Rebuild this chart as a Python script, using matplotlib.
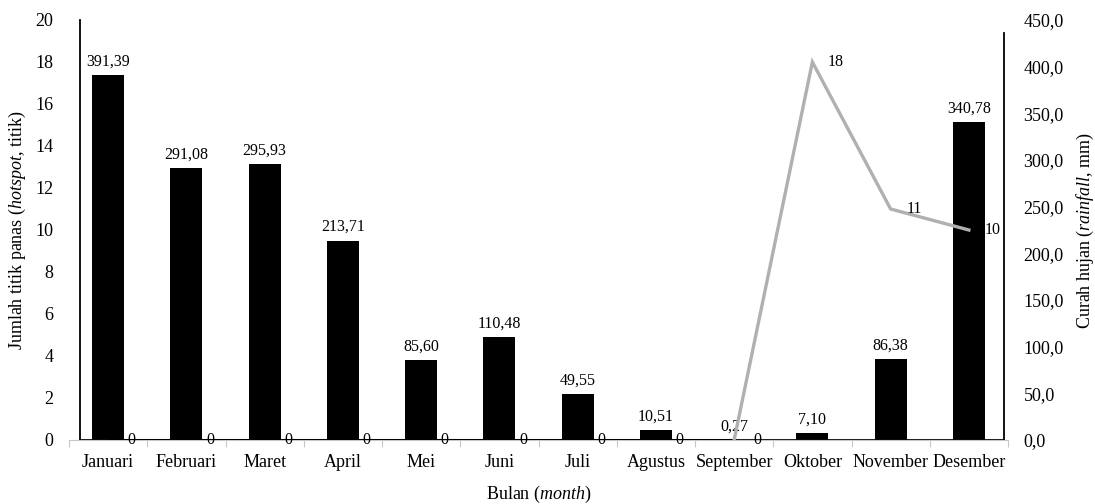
import matplotlib
matplotlib.use("Agg")
import matplotlib.pyplot as plt
import numpy as np

# data
months = ["Januari", "Februari", "Maret", "April", "Mei", "Juni", "Juli",
          "Agustus", "September", "Oktober", "November", "Desember"]
rainfall = [391.39, 291.08, 295.93, 213.71, 85.60, 110.48, 49.55,
            10.51, 0.27, 7.10, 86.38, 340.78]
hotspot = [0, 0, 0, 0, 0, 0, 0, 0, 0, 18, 11, 10]

plt.rcParams["font.family"] = ["Liberation Serif", "DejaVu Serif"]
plt.rcParams["mathtext.fontset"] = "custom"
plt.rcParams["mathtext.rm"] = "Liberation Serif"
plt.rcParams["mathtext.it"] = "Liberation Serif:italic"
FS_TICK = 13
FS_DATA = 11.5
FS_LAB = 13

fig = plt.figure(figsize=(10.95, 5.04), dpi=100)
W, H = 1095, 504
x0, x1, y0, y1 = 69, 1008, 440, 20
ax = fig.add_axes([x0 / W, (H - y0) / H, (x1 - x0) / W, (y0 - y1) / H])
ax2 = ax.twinx()

x = np.arange(len(months))
cat_px = (x1 - x0) / len(months)

# bars on the rainfall axis
bars = ax2.bar(x, rainfall, width=0.41, color="black", zorder=2)
for b, v in zip(bars, rainfall):
    ax2.annotate(f"{v:.2f}".replace(".", ","), (b.get_x() + b.get_width() / 2, v),
                 xytext=(0, 4), textcoords="offset points",
                 ha="center", va="bottom", fontsize=FS_DATA)

# hotspot line: zero stretch is dark, rest grey
n0 = max(i for i, v in enumerate(hotspot) if v == 0)
ax.plot(x[:n0 + 1], hotspot[:n0 + 1], color="black", lw=2.2, zorder=3)
ax.plot(x[n0:], hotspot[n0:], color="#b0b0b0", lw=2.4, zorder=3,
        solid_joinstyle="miter")
for xi, v in zip(x, hotspot):
    ax.annotate(f"{v}", (xi, v), xytext=(17, 0), textcoords="offset points",
                ha="center", va="center", fontsize=FS_DATA)

ax.set_zorder(ax2.get_zorder() + 1)
ax.patch.set_visible(False)

ax.set_xlim(-0.5, len(months) - 0.5)
ax.set_ylim(0, 20)
ax2.set_ylim(0, 450)
ax.set_yticks(np.arange(0, 21, 2))
ax2.set_yticks(np.arange(0, 451, 50))
ax2.set_yticklabels([f"{t:.1f}".replace(".", ",") for t in np.arange(0, 451, 50)])

ax.set_xticks(x)
ax.set_xticklabels(months)
ax.set_xticks(np.arange(-0.5, len(months)), minor=True)
ax.tick_params(axis="x", which="major", length=0, pad=10, labelsize=FS_TICK)
ax.tick_params(axis="x", which="minor", length=5, color="#c8c8c8", width=0.8)
ax.tick_params(axis="y", length=0, pad=19, labelsize=FS_TICK)
ax2.tick_params(axis="y", length=0, pad=14, labelsize=FS_TICK)
ax2.tick_params(axis="x", length=0)

# spines
left_x = -0.5 + (80 - x0) / cat_px
right_x = len(months) - 0.5 - (x1 - 1004) / cat_px
for a in (ax, ax2):
    a.spines["top"].set_visible(False)
ax.spines["right"].set_visible(False)
ax2.spines["left"].set_visible(False)
ax2.spines["bottom"].set_visible(False)
ax.spines["left"].set_position(("data", left_x))
ax.spines["left"].set_linewidth(1.3)
ax2.spines["right"].set_position(("data", right_x))
ax2.spines["right"].set_linewidth(1.3)
ax2.spines["right"].set_bounds(0, 436)
ax.spines["bottom"].set_color("#c8c8c8")
ax.spines["bottom"].set_linewidth(0.8)
ax.axhline(0, xmin=(80 - x0) / (x1 - x0), xmax=(1004 - x0) / (x1 - x0),
           color="black", lw=1.3, zorder=2.5)

ax.set_ylabel(r"Jumlah titik panas ($\it{hotspot}$, titik)", fontsize=FS_LAB)
ax.yaxis.set_label_coords(-0.044, 0.5)
ax2.set_ylabel(r"Curah hujan ($\it{rainfall}$, mm)", fontsize=FS_LAB)
ax2.yaxis.set_label_coords(1.071, 0.5)
ax.set_xlabel(r"Bulan ($\it{month}$)", fontsize=FS_LAB, labelpad=9)

fig.savefig("out.png", dpi=100)
